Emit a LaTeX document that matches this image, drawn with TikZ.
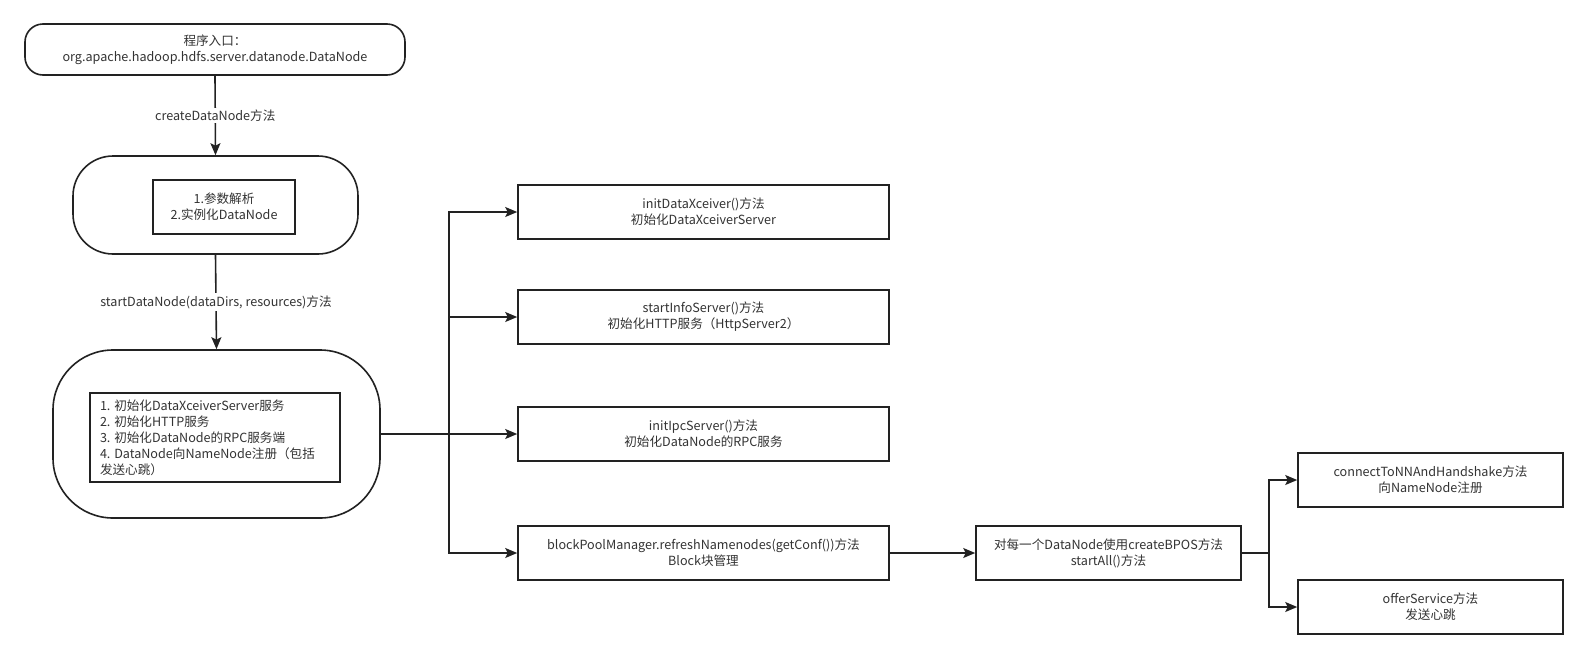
\documentclass[tikz,border=0pt]{standalone}
\usepackage{fontspec}
\setmainfont{Noto Sans CJK SC}
\usetikzlibrary{arrows.meta,calc}
\definecolor{ln}{HTML}{222222}
\definecolor{tx}{HTML}{333333}
\tikzset{
  base/.style={draw=ln, line width=1.6pt, fill=white, text=tx, align=center, inner sep=0pt,
    font=\fontsize{12.6}{16}\selectfont},
  rbox/.style={base, minimum width=#1, minimum height=54pt},
  arr/.style={draw=ln, line width=1.6pt, -{Stealth[length=12pt,width=10pt,inset=2.5pt]}},
  conn/.style={draw=ln, line width=1.6pt},
  lbl/.style={fill=white, text=tx, inner sep=2pt, font=\fontsize{12.6}{16}\selectfont}
}
\begin{document}
\begin{tikzpicture}[x=1pt,y=-1pt]
\useasboundingbox[fill=white] (0,0) rectangle (1588,659);
% left column
\node[base, minimum width=380pt, minimum height=51pt, rounded corners=18pt] (top) at (215,49.5)
  {程序入口：\\org.apache.hadoop.hdfs.server.datanode.DataNode};
\node[base, minimum width=285pt, minimum height=98pt, rounded corners=40pt] (b2) at (215.5,205) {};
\node[base, minimum width=142pt, minimum height=54pt] (in2) at (224,207) {1.参数解析\\2.实例化DataNode};
\node[base, minimum width=327pt, minimum height=168pt, rounded corners=60pt] (b3) at (216.5,434) {};
\node[base, text width=230pt, inner xsep=10pt, minimum height=89pt, align=flush left] (in3) at (215,437.5)
  {1. 初始化DataXceiverServer服务\\2. 初始化HTTP服务\\3. 初始化DataNode的RPC服务端\\4. DataNode向NameNode注册（包括\\发送心跳）};
\draw[arr] (top.south) -- node[lbl]{createDataNode方法} (b2.north);
\draw[arr] (b2.south) -- node[lbl]{startDataNode(dataDirs, resources)方法} (b3.north);
% middle column
\node[rbox=371pt] (m1) at (703.5,212) {initDataXceiver()方法\\初始化DataXceiverServer};
\node[rbox=371pt] (m2) at (703.5,317) {startInfoServer()方法\\初始化HTTP服务（HttpServer2）};
\node[rbox=371pt] (m3) at (703.5,434) {initIpcServer()方法\\初始化DataNode的RPC服务};
\node[rbox=371pt] (m4) at (703.5,553) {blockPoolManager.refreshNamenodes(getConf())方法\\Block块管理};
\coordinate (bus) at (449,434);
\draw[conn] (b3.east) -- (bus);
\draw[arr] (bus) |- (m1.west);
\draw[arr] (bus) |- (m2.west);
\draw[arr] (bus) -- (m3.west);
\draw[arr] (bus) |- (m4.west);
% right part
\node[rbox=265pt] (m5) at (1108.5,553) {对每一个DataNode使用createBPOS方法\\startAll()方法};
\node[rbox=265pt] (m6) at (1430.5,480) {connectToNNAndHandshake方法\\向NameNode注册};
\node[rbox=265pt] (m7) at (1430.5,607) {offerService方法\\发送心跳};
\draw[arr] (m4.east) -- (m5.west);
\coordinate (bus2) at (1269,553);
\draw[conn] (m5.east) -- (bus2);
\draw[arr] (bus2) |- (m6.west);
\draw[arr] (bus2) |- (m7.west);
\end{tikzpicture}
\end{document}
